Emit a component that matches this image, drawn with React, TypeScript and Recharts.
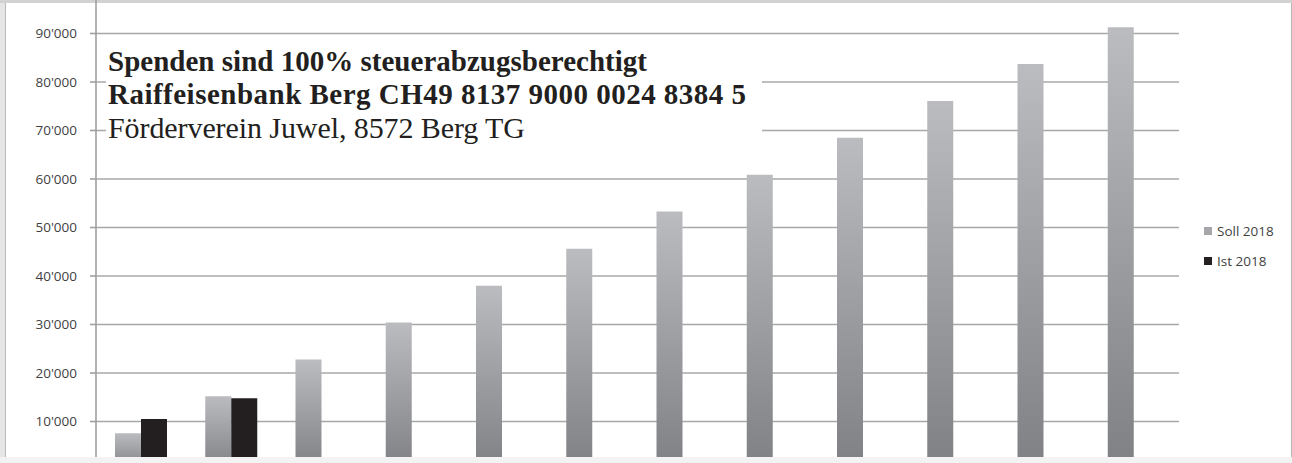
import { BarChart, Bar, XAxis, YAxis, CartesianGrid } from "recharts";

// months (x labels are cut off in the reference, axis is hidden)
const months = ["Jan", "Feb", "Mär", "Apr", "Mai", "Jun", "Jul", "Aug", "Sep", "Okt", "Nov", "Dez"];
const soll2018 = [7600, 15200, 22800, 30400, 38000, 45600, 53300, 60900, 68500, 76100, 83700, 91300];
const ist2018: (number | null)[] = [10500, 14800, null, null, null, null, null, null, null, null, null, null];
const yTicks = [0, 10000, 20000, 30000, 40000, 50000, 60000, 70000, 80000, 90000];

const seriesNames = { soll: "Soll 2018", ist: "Ist 2018" };

const infoLines = [
    { text: "Spenden sind 100% steuerabzugsberechtigt", bold: true },
    { text: "Raiffeisenbank Berg CH49 8137 9000 0024 8384 5", bold: true },
    { text: "Förderverein Juwel, 8572 Berg TG", bold: false },
];

const data = months.map((m, i) => ({ month: m, soll: soll2018[i], ist: ist2018[i] }));

const formatTick = (v: number) => (v === 0 ? "0" : `${v / 1000}'000`);

const axisFont = "'Open Sans', sans-serif";

export default function App() {
    return (
        <div style={{ position: "fixed", left: 0, top: 0, width: 1292, height: 463, overflow: "hidden", background: "#f3f3f3" }}>
            <div style={{ position: "absolute", left: 0, top: 0, width: 1292, height: 3, background: "#d2d2d2" }} />
            <div style={{ position: "absolute", left: 0, top: 3, width: 5, height: 454, background: "#e6e6e6" }} />
            <div
                style={{
                    position: "absolute",
                    left: 5,
                    top: 3,
                    width: 1285,
                    height: 454,
                    background: "#fff",
                    borderLeft: "1px solid #b8b8b8",
                    borderRight: "1px solid #b8b8b8",
                }}
            />
            {/* chart is clipped at the bottom like the reference */}
            <div style={{ position: "absolute", left: 0, top: 0, width: 1292, height: 457, overflow: "hidden" }}>
                <div style={{ position: "absolute", left: 0, top: -15 }}>
                    <BarChart
                        width={1292}
                        height={490}
                        data={data}
                        margin={{ top: 0, right: 113, bottom: 5, left: 0 }}
                        barGap={0}
                        barSize={26}
                    >
                        <defs>
                            <linearGradient id="sollGrad" x1="0" y1="0" x2="0" y2="1">
                                <stop offset="0%" stopColor="#bbbcbf" />
                                <stop offset="100%" stopColor="#7f8084" />
                            </linearGradient>
                        </defs>
                        <CartesianGrid vertical={false} stroke="#a8a8a8" strokeWidth={1.6} />
                        <XAxis dataKey="month" hide />
                        <YAxis
                            width={96}
                            domain={[0, 100000]}
                            ticks={yTicks}
                            tickFormatter={formatTick}
                            tickSize={6}
                            tickMargin={13}
                            axisLine={{ stroke: "#a0a0a0", strokeWidth: 1.6 }}
                            tickLine={{ stroke: "#a0a0a0", strokeWidth: 1.6 }}
                            tick={{ fill: "#3f3f3f", fontSize: 13.5, fontFamily: axisFont }}
                        />
                        <Bar dataKey="soll" name={seriesNames.soll} fill="url(#sollGrad)" isAnimationActive={false} />
                        <Bar dataKey="ist" name={seriesNames.ist} fill="#231f20" isAnimationActive={false} />
                    </BarChart>
                </div>
            </div>

            {/* legend */}
            <div style={{ position: "absolute", left: 1204, top: 216, fontFamily: axisFont, fontSize: 13.5, color: "#3f3f3f" }}>
                {[
                    { name: seriesNames.soll, color: "#a6a7aa" },
                    { name: seriesNames.ist, color: "#231f20" },
                ].map((item) => (
                    <div key={item.name} style={{ height: 30, display: "flex", alignItems: "center" }}>
                        <span style={{ display: "inline-block", width: 8, height: 8, background: item.color, marginRight: 5 }} />
                        <span>{item.name}</span>
                    </div>
                ))}
            </div>

            {/* pasted text box */}
            <svg style={{ position: "absolute", left: 106, top: 40 }} width={656} height={112}>
                <rect x={0} y={0} width={656} height={112} fill="#fff" />
                {infoLines.map((line, i) => (
                    <text
                        key={i}
                        x={2}
                        y={[31, 64, 98][i]}
                        fill="#231f20"
                        fontFamily="'Liberation Serif', serif"
                        fontWeight={line.bold ? 700 : 400}
                        fontSize={line.bold ? 29 : 30}
                        textLength={[539, 638, 417][i]}
                        lengthAdjust="spacing"
                        style={{ fontVariantNumeric: "oldstyle-nums" }}
                    >
                        {line.text}
                    </text>
                ))}
            </svg>
        </div>
    );
}
